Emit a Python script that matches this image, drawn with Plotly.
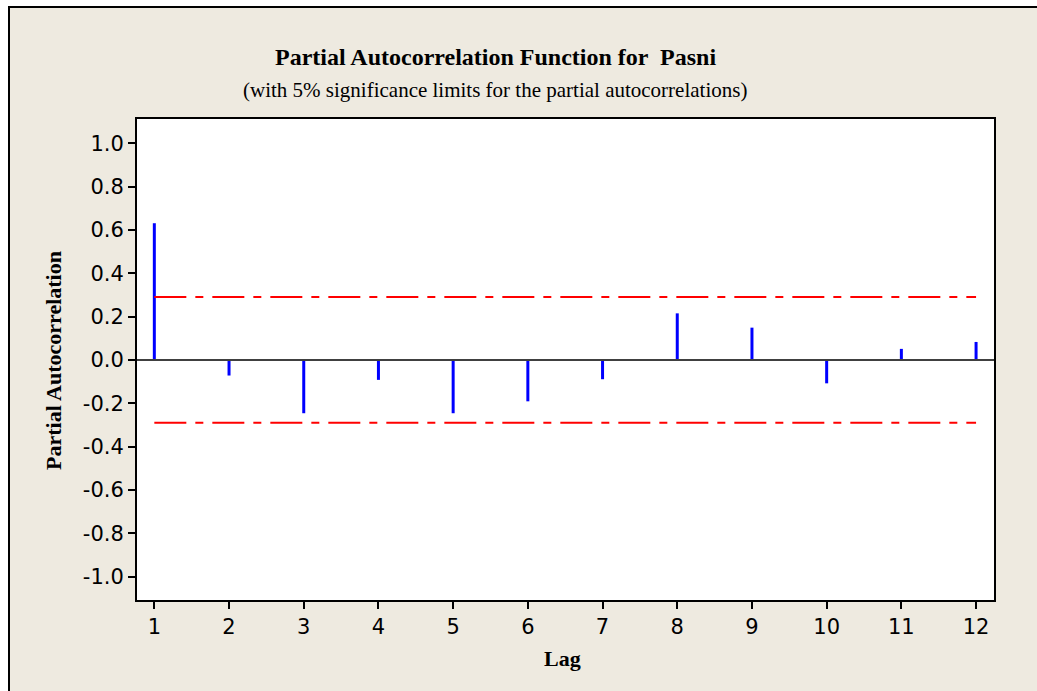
import plotly.graph_objects as go

# Partial autocorrelations by lag
lags = [1, 2, 3, 4, 5, 6, 7, 8, 9, 10, 11, 12]
pacf = [0.631, -0.072, -0.246, -0.092, -0.246, -0.191, -0.089, 0.215, 0.149, -0.108, 0.051, 0.083]
sig_limit = 0.29
y_ticks = [1.0, 0.8, 0.6, 0.4, 0.2, 0.0, -0.2, -0.4, -0.6, -0.8, -1.0]

W, H = 1037, 691
L, R, T, B = 137, 43, 119, 91
pw, ph = W - L - R, H - T - B


def px(x):
    return (x - L) / pw


def py(y):
    return (H - B - y) / ph


# Vertical spikes from zero to each partial autocorrelation
sx, sy = [], []
for lag, v in zip(lags, pacf):
    sx += [lag, lag, None]
    sy += [0, v, None]

fig = go.Figure()
fig.add_trace(go.Scatter(x=sx, y=sy, mode="lines",
                         line=dict(color="#0000FF", width=3),
                         hoverinfo="skip", showlegend=False))
for s in (sig_limit, -sig_limit):
    fig.add_trace(go.Scatter(x=[lags[0], lags[-1]], y=[s, s], mode="lines",
                             line=dict(color="#FF0000", width=2,
                                       dash="32px,9px,8px,9px"),
                             hoverinfo="skip", showlegend=False))

axis_common = dict(showgrid=False, zeroline=False, showline=True,
                   linecolor="black", linewidth=2, mirror=True,
                   ticks="outside", ticklen=7, tickwidth=1.5, tickcolor="black",
                   tickfont=dict(family="DejaVu Sans", size=21, color="black"))

fig.update_xaxes(range=[0.768, 12.24], tickvals=lags,
                 ticktext=[str(v) for v in lags], **axis_common)
fig.update_yaxes(range=[-1.108, 1.112], tickvals=y_ticks,
                 ticktext=[f"{v:.1f}" for v in y_ticks], **axis_common)

shapes = [
    # white margin outside the frame
    dict(type="rect", xref="paper", yref="paper", x0=px(-5), x1=px(W + 5),
         y0=py(7), y1=py(-5), fillcolor="white", line=dict(width=0)),
    dict(type="rect", xref="paper", yref="paper", x0=px(-5), x1=px(9),
         y0=py(H + 5), y1=py(-5), fillcolor="white", line=dict(width=0)),
    # frame edges
    dict(type="line", xref="paper", yref="paper", x0=px(8), x1=px(W + 5),
         y0=py(7), y1=py(7), line=dict(color="black", width=2)),
    dict(type="line", xref="paper", yref="paper", x0=px(9), x1=px(9),
         y0=py(6), y1=py(H + 5), line=dict(color="black", width=2)),
    # zero reference line
    dict(type="line", xref="paper", yref="y", x0=0, x1=1, y0=0, y1=0,
         line=dict(color="#404040", width=2)),
]

annotations = [
    dict(text="<b>Partial Autocorrelation Function for  Pasni</b>",
         xref="paper", yref="paper", x=px(495), y=py(57),
         xanchor="center", yanchor="middle", showarrow=False,
         font=dict(family="Liberation Serif", size=24, color="black")),
    dict(text="(with 5% significance limits for the partial autocorrelations)",
         xref="paper", yref="paper", x=px(495), y=py(90),
         xanchor="center", yanchor="middle", showarrow=False,
         font=dict(family="Liberation Serif", size=21, color="black")),
    dict(text="<b>Partial Autocorrelation</b>",
         xref="paper", yref="paper", x=px(53), y=py(361), textangle=-90,
         xanchor="center", yanchor="middle", showarrow=False,
         font=dict(family="Liberation Serif", size=22, color="black")),
    dict(text="<b>Lag</b>",
         xref="paper", yref="paper", x=px(562), y=py(658),
         xanchor="center", yanchor="middle", showarrow=False,
         font=dict(family="Liberation Serif", size=22, color="black")),
]

fig.update_layout(width=W, height=H,
                  margin=dict(l=L, r=R, t=T, b=B, pad=0),
                  paper_bgcolor="#EEEAE0", plot_bgcolor="white",
                  shapes=shapes, annotations=annotations, showlegend=False)

fig.write_html("out.html")
